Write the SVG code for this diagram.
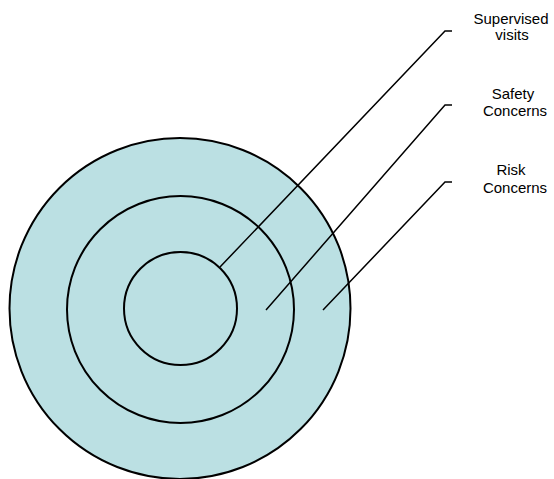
<svg xmlns="http://www.w3.org/2000/svg" width="554" height="479" viewBox="0 0 554 479">
<style>
.ring{fill:#bbe0e3;stroke:#000;stroke-width:2}
.conn{fill:none;stroke:#000;stroke-width:1.5}
.lbl{font-family:"Liberation Sans",Arial,sans-serif;font-size:15px;fill:#000;text-anchor:middle}
</style>
<rect width="554" height="479" fill="#fff"/>
<g id="outer-circle"><circle class="ring" cx="180" cy="308.5" r="170.5"/></g>
<g id="middle-circle"><circle class="ring" cx="180.5" cy="309.5" r="113.5"/></g>
<g id="inner-circle"><circle class="ring" cx="180.5" cy="308.5" r="56.5"/></g>
<g id="connectors">
<polyline class="conn" points="220,267 445,31 452,31"/>
<polyline class="conn" points="266,310 445,105 452,105"/>
<polyline class="conn" points="323,310 445,182 452,182"/>
</g>
<g id="label-supervised"><text class="lbl" x="511" y="24">Supervised</text><text class="lbl" x="512" y="39.5">visits</text></g>
<g id="label-safety"><text class="lbl" x="513" y="99">Safety</text><text class="lbl" x="515" y="116">Concerns</text></g>
<g id="label-risk"><text class="lbl" x="511" y="175">Risk</text><text class="lbl" x="515" y="193">Concerns</text></g>
</svg>
